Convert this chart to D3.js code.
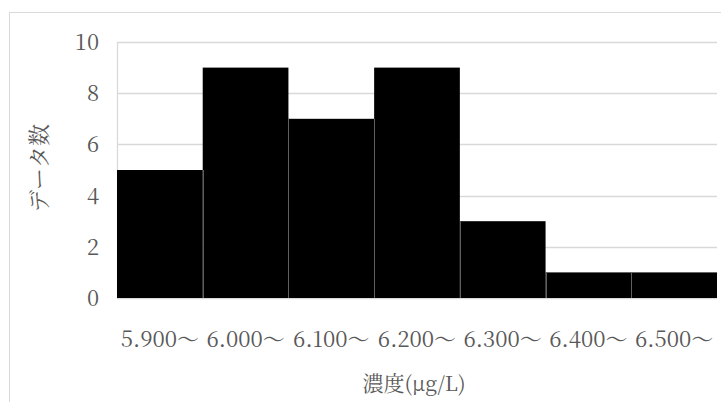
<!DOCTYPE html>
<html><head><meta charset="utf-8">
<script src="https://cdn.jsdelivr.net/npm/d3@7"></script>
<style>body{margin:0;background:#fff}svg{display:block}</style>
</head><body>
<script>
const categories = ["5.900～","6.000～","6.100～","6.200～","6.300～","6.400～","6.500～"];
const counts = [5, 9, 7, 9, 3, 1, 1];
const yTicks = [0, 2, 4, 6, 8, 10];
const yTitle = "データ数";
const xTitle = "濃度(μg/L)";

const W = 721, H = 402;
const font = "'Noto Serif CJK JP'";
const txt = "#595959";
const pL = 117, pR = 717, pT = 42, pB = 298;

const svg = d3.select("body").append("svg").attr("width", W).attr("height", H);
svg.append("rect").attr("x", 9.5).attr("y", 12.5).attr("width", 720).attr("height", 400)
  .attr("fill", "#fff").attr("stroke", "#d9d9d9");

const x = d3.scaleBand().domain(categories).range([pL, pR]).padding(0);
const y = d3.scaleLinear().domain([0, 10]).range([pB, pT]);

// gridlines
svg.append("g").selectAll("line").data(yTicks).join("line")
  .attr("x1", pL).attr("x2", pR)
  .attr("y1", d => Math.round(y(d)) + 0.5).attr("y2", d => Math.round(y(d)) + 0.5)
  .attr("stroke", "#d9d9d9").attr("stroke-width", 1.3);
svg.append("line").attr("x1", pL + 0.5).attr("x2", pL + 0.5).attr("y1", pT).attr("y2", pB)
  .attr("stroke", "#d9d9d9").attr("stroke-width", 1.3);

// bars
svg.append("g").selectAll("rect").data(counts).join("rect")
  .attr("x", (d, i) => x(categories[i]))
  .attr("width", x.bandwidth())
  .attr("y", d => y(d))
  .attr("height", d => y(0) - y(d))
  .attr("fill", "#000");

// separators between adjacent bars
svg.append("g").selectAll("line").data(counts.slice(1)).join("line")
  .attr("x1", (d, i) => Math.round(x(categories[i + 1])) + 0.5)
  .attr("x2", (d, i) => Math.round(x(categories[i + 1])) + 0.5)
  .attr("y1", (d, i) => y(Math.min(d, counts[i])))
  .attr("y2", y(0))
  .attr("stroke", "#5f5f5f").attr("stroke-width", 1);

const T = svg.append("g").attr("font-family", font).attr("fill", txt);

// y tick labels
T.append("g").selectAll("text").data(yTicks).join("text")
  .attr("x", 99).attr("y", d => y(d) + 8)
  .attr("text-anchor", "end").attr("font-size", 22)
  .text(d => d);

// x tick labels
T.append("g").selectAll("text").data(categories).join("text")
  .attr("x", d => x(d) + x.bandwidth() / 2).attr("y", 347)
  .attr("text-anchor", "middle").attr("font-size", 22)
  .text(d => d);

// titles
T.append("text").attr("transform", "translate(47,168) rotate(-90)")
  .attr("text-anchor", "middle").attr("font-size", 22).text(yTitle);
T.append("text").attr("x", 414).attr("y", 391)
  .attr("text-anchor", "middle").attr("font-size", 21).text(xTitle);
</script>
</body></html>
